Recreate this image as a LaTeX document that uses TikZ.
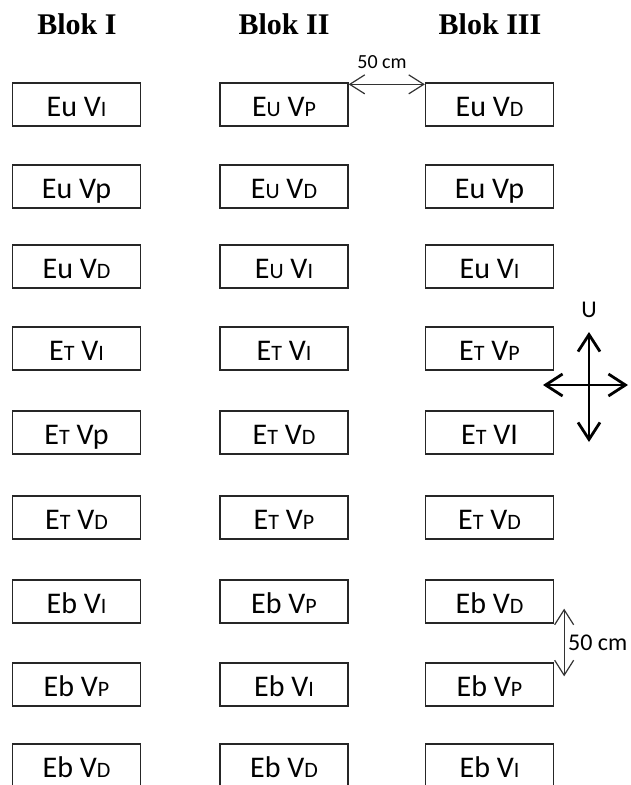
\documentclass[tikz,border=0pt]{standalone}
\usepackage{fontspec}
\setmainfont{Carlito}
\newfontfamily\headfont{Liberation Serif}
\usetikzlibrary{arrows.meta,calc}
% reduced capitals used in the plot codes
\newcommand{\sm}[1]{{\fontsize{22pt}{22pt}\selectfont #1}}
\begin{document}
\begin{tikzpicture}[x=1pt,y=-1pt,
  plotbox/.style={draw=black!85, line width=1.3pt, minimum width=128pt,
    minimum height=43pt, inner sep=0pt, text height=24pt, text depth=0pt,
    font=\fontsize{30pt}{30pt}\selectfont},
  blockhead/.style={anchor=base, inner sep=0pt,
    font=\headfont\bfseries\fontsize{30pt}{30pt}\selectfont},
  dimline/.style={line width=1.2pt, draw=black!80,
    {Straight Barb[length=15pt,width=19pt]}-{Straight Barb[length=15pt,width=19pt]}},
  compass/.style={line width=2.8pt, draw=black,
    {Straight Barb[length=17pt,width=22pt]}-{Straight Barb[length=17pt,width=22pt]}},
]
\useasboundingbox (0,0) rectangle (630,785);
\clip (0,0) rectangle (630,785);

% block headings
\node[blockhead] (h1) at (77,34) {Blok I};
\node[blockhead] (h2) at (284,34) {Blok II};
\node[blockhead] (h3) at (490,34) {Blok III};

% plots: b<row><column>
\foreach \r/\y/\a/\b/\c in {
  1/104.5/{Eu V\sm{I}}/{E\sm{U} V\sm{P}}/{Eu V\sm{D}},
  2/186.5/{Eu Vp}/{E\sm{U} V\sm{D}}/{Eu Vp},
  3/266.5/{Eu V\sm{D}}/{E\sm{U} V\sm{I}}/{Eu V\sm{I}},
  4/348.5/{E\sm{T} V\sm{I}}/{E\sm{T} V\sm{I}}/{E\sm{T} V\sm{P}},
  5/432.5/{E\sm{T} Vp}/{E\sm{T} V\sm{D}}/{E\sm{T} VI},
  6/517.5/{E\sm{T} V\sm{D}}/{E\sm{T} V\sm{P}}/{E\sm{T} V\sm{D}},
  7/601.5/{Eb V\sm{I}}/{Eb V\sm{P}}/{Eb V\sm{D}},
  8/684.5/{Eb V\sm{P}}/{Eb V\sm{I}}/{Eb V\sm{P}},
  9/765.5/{Eb V\sm{D}}/{Eb V\sm{D}}/{Eb V\sm{I}}}{
  \node[plotbox] (b\r1) at (76.5,\y) {\a};
  \node[plotbox] (b\r2) at (284,\y) {\b};
  \node[plotbox] (b\r3) at (489.5,\y) {\c};
}

% spacing between blocks
\draw[dimline] ($(b12.north east)+(0,2)$) -- ($(b13.north west)+(0,2)$);
\node[font=\fontsize{20pt}{20pt}\selectfont, inner sep=0pt] (d1) at (382,62) {50 cm};

% spacing between plots
\coordinate (v1) at ($(b73.south east)+(10,-15)$);
\coordinate (v2) at ($(b83.north east)+(10,14)$);
\draw[dimline] (v1) -- (v2);
\node[font=\fontsize{24pt}{24pt}\selectfont, inner sep=0pt, anchor=west] (d2) at (568,643) {50 cm};

% north arrow
\coordinate (cc) at (589,385);
\coordinate (cn) at (589,332);
\coordinate (cs) at (589,442);
\coordinate (cw) at (543,385);
\coordinate (ce) at (628,385);
\draw[compass] (cn) -- (cs);
\draw[compass] (cw) -- (ce);
\node[font=\fontsize{24pt}{24pt}\selectfont, inner sep=0pt] (north) at (589,310) {U};
\end{tikzpicture}
\end{document}
